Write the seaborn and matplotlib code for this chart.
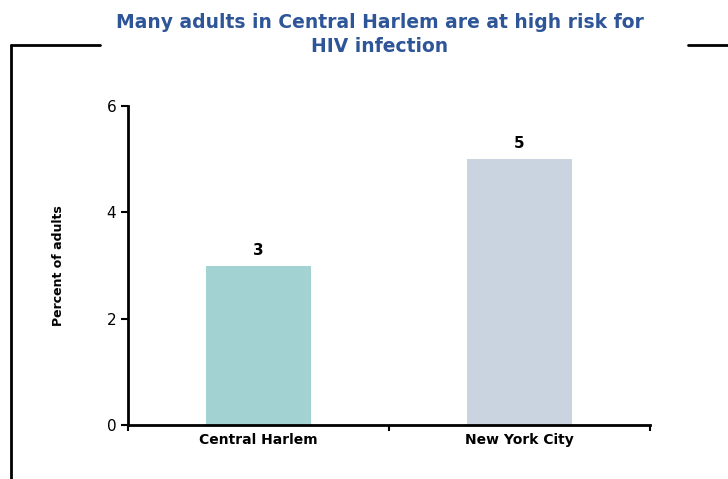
import pandas as pd
import seaborn as sns
import matplotlib.pyplot as plt
from matplotlib.lines import Line2D

areas = ["Central Harlem", "New York City"]
percents = [3, 5]
bar_colors = ["#A2D2D2", "#C9D4E0"]
yticks = [0, 2, 4, 6]

df = pd.DataFrame({"area": areas, "pct": percents})

sns.set_style("white")
plt.rcParams["font.family"] = ["DejaVu Sans"]
plt.rcParams["text.color"] = "black"
plt.rcParams["axes.labelcolor"] = "black"
plt.rcParams["xtick.color"] = "black"
plt.rcParams["ytick.color"] = "black"

fig = plt.figure(figsize=(7.28, 4.79), dpi=100)
ax = fig.add_axes([0.1758, 0.1127, 0.7170, 0.6660])

sns.barplot(data=df, x="area", y="pct", hue="area", palette=bar_colors,
            width=0.4, legend=False, ax=ax, saturation=1, linewidth=0)

ax.set_xlim(-0.5, 1.5)
ax.set_ylim(0, 6)
ax.set_yticks(yticks)
ax.set_yticklabels([str(t) for t in yticks], fontsize=11)

# category labels centred, ticks at the boundaries
ax.set_xticks([0, 1])
ax.set_xticklabels(areas, fontsize=10, fontweight="bold")
ax.tick_params(axis="x", which="major", length=0, pad=6)
ax.set_xticks([-0.5, 0.5, 1.5], minor=True)
ax.tick_params(axis="x", which="minor", length=4, width=1.5,
               direction="out", bottom=True)
ax.tick_params(axis="y", length=5, width=1.5, direction="out", left=True)

for s in ["top", "right"]:
    ax.spines[s].set_visible(False)
for s in ["left", "bottom"]:
    ax.spines[s].set_color("black")
    ax.spines[s].set_linewidth(2)

ax.set_xlabel("")
ax.set_ylabel("Percent of adults", fontsize=9, fontweight="bold", labelpad=30)

for i, v in enumerate(percents):
    ax.text(i, v + 0.15, str(v), ha="center", va="bottom",
            fontsize=11, fontweight="bold")

fig.text(0.522, 0.928, "Many adults in Central Harlem are at high risk for\nHIV infection",
         ha="center", va="center", fontsize=13.5, fontweight="bold",
         color="#2E5597", linespacing=1.35)

# decorative frame around the title
fig.add_artist(Line2D([0.015, 0.015], [0.0, 0.906], transform=fig.transFigure,
                      color="black", lw=2))
fig.add_artist(Line2D([0.015, 0.138], [0.906, 0.906], transform=fig.transFigure,
                      color="black", lw=2))
fig.add_artist(Line2D([0.945, 1.0], [0.906, 0.906], transform=fig.transFigure,
                      color="black", lw=2))

fig.savefig("out.png", dpi=100)
